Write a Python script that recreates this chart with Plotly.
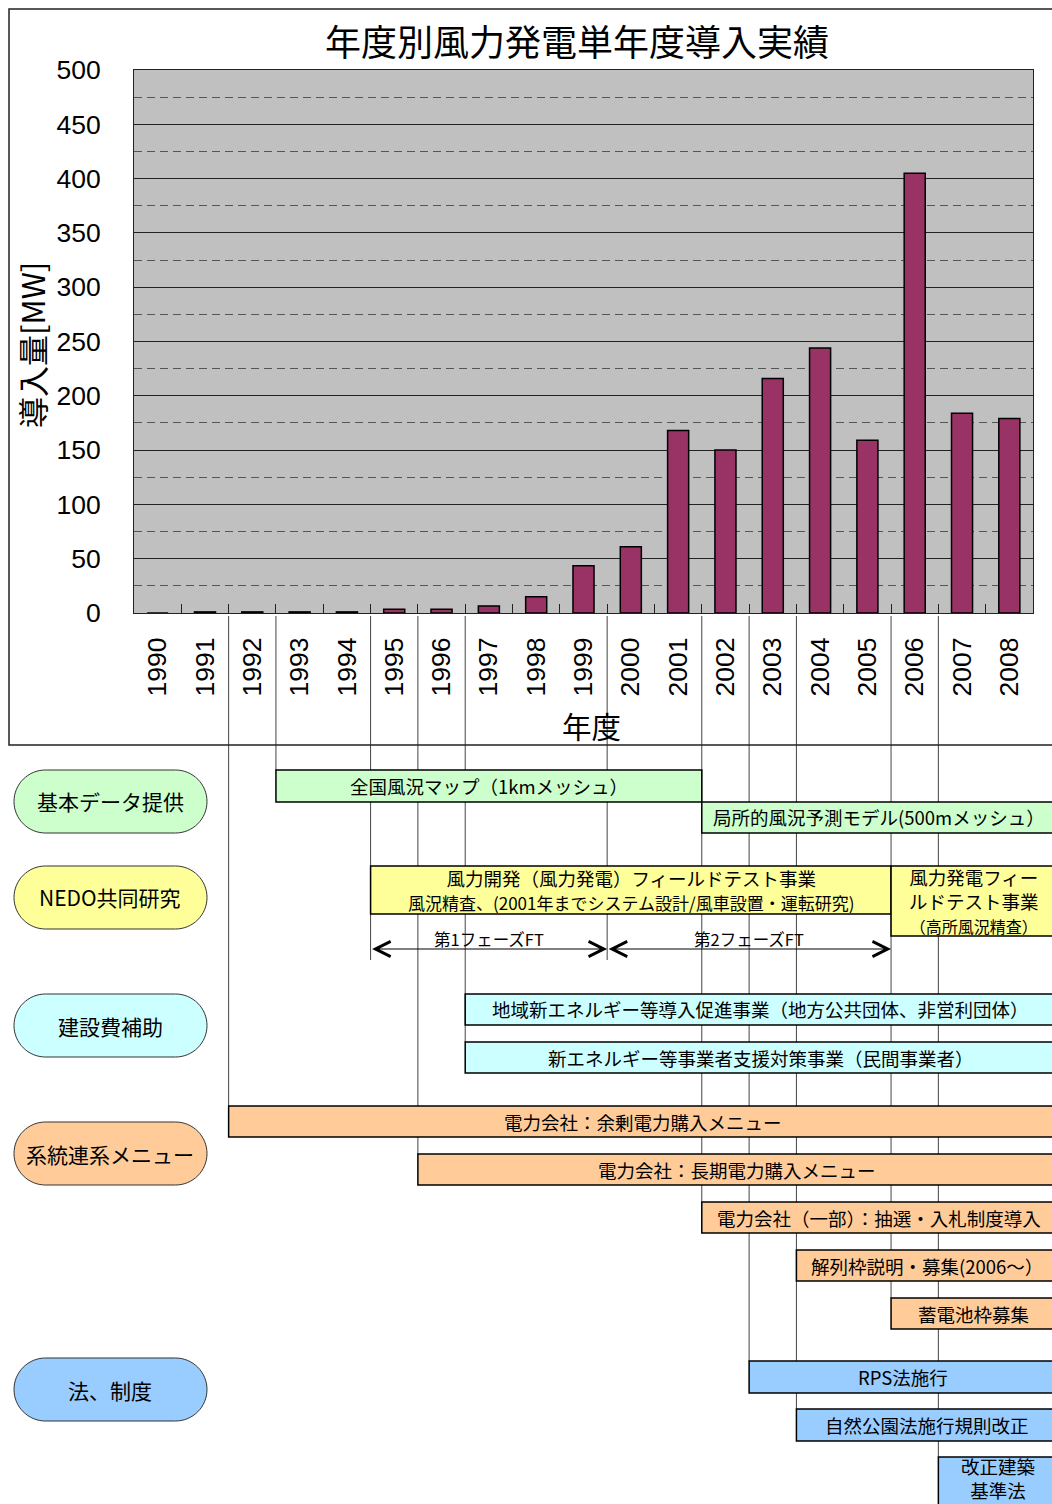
import plotly.graph_objects as go

# ---- data ----
years = list(range(1990, 2009))
capacity_mw = [0, 1, 1, 1, 1, 3.5, 3.5, 6.5, 15, 43.5, 61,
               168, 150, 216, 244, 159, 405, 184, 179]

cat_labels = ["基本データ提供", "NEDO共同研究", "建設費補助", "系統連系メニュー", "法、制度"]

prog_labels = [
    "全国風況マップ（1kmメッシュ）",
    "局所的風況予測モデル(500mメッシュ）",
    "風力開発（風力発電）フィールドテスト事業<br><span style='font-size:17px'>風況精査、(2001年までシステム設計/風車設置・運転研究)</span>",
    "風力発電フィー<br>ルドテスト事業<br><span style='font-size:16px'>（高所風況精査）</span>",
    "地域新エネルギー等導入促進事業（地方公共団体、非営利団体）",
    "新エネルギー等事業者支援対策事業（民間事業者）",
    "電力会社：余剰電力購入メニュー",
    "電力会社：長期電力購入メニュー",
    "電力会社（一部）：抽選・入札制度導入",
    "解列枠説明・募集(2006～）",
    "蓄電池枠募集",
    "RPS法施行",
    "自然公園法施行規則改正",
    "改正建築<br>基準法",
]
prog_cat = [0, 0, 1, 1, 2, 2, 3, 3, 3, 3, 3, 4, 4, 4]
prog_start = [1993, 2002, 1995, 2006, 1997, 1997, 1992, 1996, 2002, 2004, 2006, 2003, 2004, 2007]
prog_end = [2001, None, 2005, None, None, None, None, None, None, None, None, None, None, None]

phase_labels = ["第1フェーズFT", "第2フェーズFT"]
phase_start = [1995, 2000]
phase_end = [1999, 2005]

# ---- layout constants (pixels) ----
W, H = 1052, 1504
PL, PR, PT, PB = 134, 1033, 70, 613
TL_TOP = 616
cat_w = (PR - PL) / len(years)
x2_max = years[0] - 0.5 + (W - PL) / cat_w
vis_right = x2_max + 0.1

cat_fill = ["#CCFFCC", "#FFFF99", "#CCFFFF", "#FFCC99", "#99CCFF"]
cat_top = [770, 866, 994, 1122, 1358]
cat_h = 63
prog_top = [770, 802, 866, 866, 994, 1042, 1106, 1154, 1202, 1250, 1298, 1361, 1409, 1457]
prog_bot = [802, 833, 914, 936, 1025, 1073, 1137, 1185, 1233, 1281, 1329, 1393, 1441, 1512]
text_bottom_limit = 1498
arrow_y = 949

JP = "Noto Sans CJK JP"
NUM = "Liberation Sans"


def X(p):
    return p / W


def pill_path(x0, y0, x1, y1):
    r = (y1 - y0) / 2
    k = 0.5523 * r
    return (f"M {X(x0 + r)},{y0} L {X(x1 - r)},{y0} "
            f"C {X(x1 - r + k)},{y0} {X(x1)},{y0 + r - k} {X(x1)},{y0 + r} "
            f"C {X(x1)},{y0 + r + k} {X(x1 - r + k)},{y1} {X(x1 - r)},{y1} "
            f"L {X(x0 + r)},{y1} "
            f"C {X(x0 + r - k)},{y1} {X(x0)},{y0 + r + k} {X(x0)},{y0 + r} "
            f"C {X(x0)},{y0 + r - k} {X(x0 + r - k)},{y0} {X(x0 + r)},{y0} Z")


def label(x, y, text, size, xref="paper", yref="paper", **kw):
    return dict(x=x, y=y, xref=xref, yref=yref, text=text, showarrow=False,
                xanchor="center", yanchor="middle",
                font=dict(family=JP, size=size, color="black"), **kw)


fig = go.Figure()
fig.add_bar(x=[str(y) for y in years], y=capacity_mw,
            marker=dict(color="#993366", line=dict(color="black", width=1.5)),
            xaxis="x", yaxis="y", hoverinfo="x+y")
fig.add_scatter(x=[years[0]], y=[TL_TOP], mode="markers", marker=dict(opacity=0),
                xaxis="x2", yaxis="y2", hoverinfo="skip", showlegend=False)

shapes = []
annotations = []

# gray plot background
shapes.append(dict(type="rect", xref="x domain", yref="y domain", x0=0, x1=1, y0=0, y1=1,
                   fillcolor="#C0C0C0", line=dict(width=0), layer="below"))
# outer chart frame
shapes.append(dict(type="rect", xref="paper", yref="paper", x0=X(9), x1=X(W + 10),
                   y0=1 - 745 / H, y1=1 - 9 / H, line=dict(color="#222", width=1.5)))

# vertical guide lines at year boundaries
bounds = {}
for s, t in zip(prog_start, prog_top):
    b = s - 0.5
    bounds[b] = max(bounds.get(b, 0), t)
for s, e in zip(phase_start, phase_end):
    for b in (s - 0.5, e + 0.5):
        bounds[b] = max(bounds.get(b, 0), arrow_y + 11)
for b, bottom in bounds.items():
    shapes.append(dict(type="line", xref="x2", yref="y2", x0=b, x1=b, y0=TL_TOP, y1=bottom,
                       line=dict(color="#444", width=1), layer="below"))

# program boxes
for lab, c, s, e, t, bt in zip(prog_labels, prog_cat, prog_start, prog_end, prog_top, prog_bot):
    x0 = s - 0.5
    x1 = e + 0.5 if e is not None else x2_max + 1
    shapes.append(dict(type="rect", xref="x2", yref="y2", x0=x0, x1=x1, y0=t, y1=bt,
                       fillcolor=cat_fill[c], line=dict(color="black", width=1.5)))
    xc = (x0 + min(x1, vis_right)) / 2
    yc = (t + min(bt, text_bottom_limit)) / 2
    annotations.append(label(xc, yc, lab, 18.5, xref="x2", yref="y2"))

# phase arrows
for lab, s, e in zip(phase_labels, phase_start, phase_end):
    annotations.append(dict(x=e + 0.5, y=arrow_y, ax=s - 0.5, ay=arrow_y,
                            xref="x2", yref="y2", axref="x2", ayref="y2", text="",
                            showarrow=True, arrowside="end+start", arrowhead=5, startarrowhead=5,
                            arrowsize=3, startarrowsize=3, arrowwidth=1, arrowcolor="black",
                            standoff=0, startstandoff=0))
    annotations.append(label((s + e) / 2, arrow_y - 10, lab, 16.5, xref="x2", yref="y2"))

# category pills
for lab, fill, t in zip(cat_labels, cat_fill, cat_top):
    shapes.append(dict(type="path", xref="paper", yref="y2", path=pill_path(14, t, 207, t + cat_h),
                       fillcolor=fill, line=dict(color="#333", width=1)))
    annotations.append(label(X(110), t + cat_h / 2, lab, 21, yref="y2"))

# titles
annotations.append(label(X(577), 1 - 40 / H, "年度別風力発電単年度導入実績", 36))
annotations.append(label(X(32), 1 - 345 / H, "導入量[MW]", 31, textangle=-90))
annotations.append(label(X(591), 1 - 725 / H, "年度", 29.5))

fig.update_layout(
    width=W, height=H,
    margin=dict(l=0, r=0, t=0, b=0, pad=0),
    paper_bgcolor="white", plot_bgcolor="rgba(0,0,0,0)",
    showlegend=False, bargap=0.555,
    xaxis=dict(type="category", domain=[X(PL), X(PR)], anchor="y", automargin=False,
               showline=True, linecolor="#222", linewidth=1, mirror=True,
               ticks="inside", ticklen=9, tickcolor="#222", tickson="boundaries",
               tickangle=-90, ticklabelstandoff=13,
               tickfont=dict(family=NUM, size=26.5, color="black"), showgrid=False),
    yaxis=dict(domain=[1 - PB / H, 1 - PT / H], anchor="x", range=[0, 500], dtick=50,
               automargin=False,
               showline=True, linecolor="#222", linewidth=1, mirror=True,
               ticks="inside", ticklen=9, tickcolor="#222", ticklabelstandoff=27,
               tickfont=dict(family=NUM, size=26.5, color="black"),
               showgrid=True, gridcolor="#222", gridwidth=1, zeroline=False,
               minor=dict(dtick=25, showgrid=True, griddash="8px,5px",
                          gridcolor="#555", gridwidth=1)),
    xaxis2=dict(domain=[X(PL), 1], anchor="y2", range=[years[0] - 0.5, x2_max],
                visible=False, automargin=False),
    yaxis2=dict(domain=[0, 1 - TL_TOP / H], anchor="x2", range=[H, TL_TOP],
                visible=False, automargin=False),
    shapes=shapes,
    annotations=annotations,
)

fig.write_html("out.html", config={"displayModeBar": False},
               post_script="document.body.style.margin='0';")
